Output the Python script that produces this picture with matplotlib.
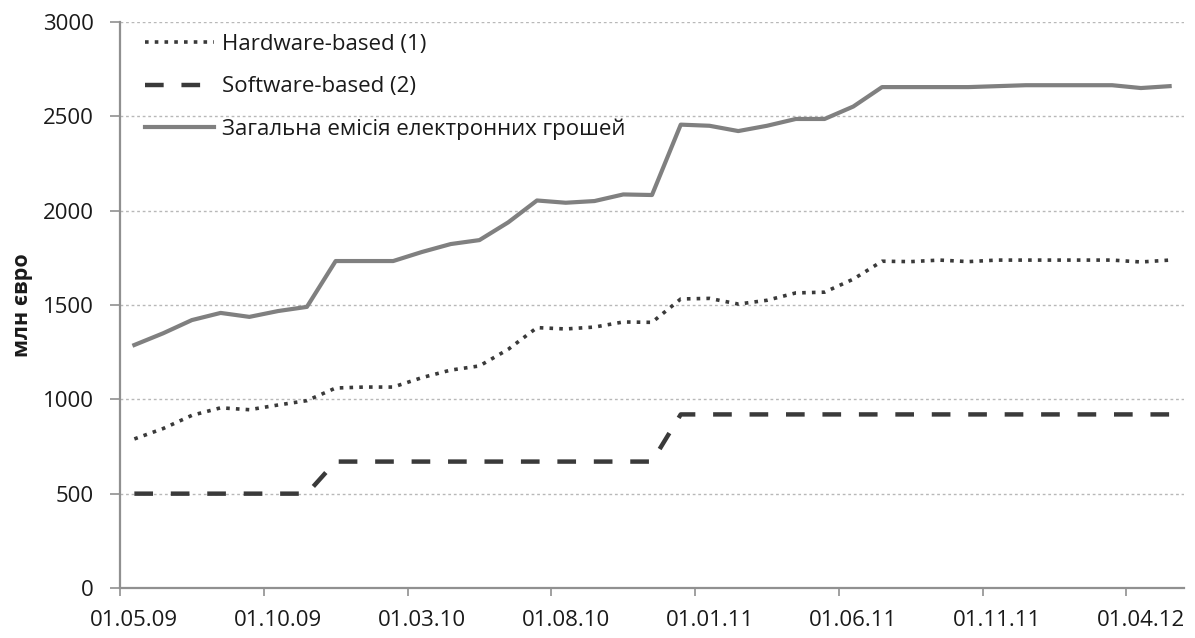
import matplotlib
matplotlib.use("Agg")
import matplotlib.pyplot as plt
import numpy as np

# Monthly observations, 01.05.09 .. 01.05.12 (37 months)
months = [f"01.{m:02d}.{y:02d}" for y, m in
          [(9 + (4 + i) // 12, (4 + i) % 12 + 1) for i in range(37)]]

hardware = [790, 845, 915, 955, 945, 970, 993, 1060, 1065, 1065, 1115, 1155,
            1177, 1265, 1380, 1373, 1383, 1410, 1408, 1532, 1535, 1505, 1525,
            1564, 1568, 1637, 1732, 1730, 1738, 1730, 1738, 1738, 1738, 1738,
            1738, 1728, 1738]

software = [500] * 7 + [670] * 12 + [920] * 18

total = [1288, 1350, 1420, 1458, 1437, 1468, 1490, 1733, 1733, 1733, 1781,
         1823, 1844, 1938, 2054, 2042, 2051, 2086, 2083, 2456, 2450, 2422,
         2450, 2486, 2486, 2552, 2655, 2655, 2655, 2655, 2660, 2665, 2665,
         2665, 2665, 2650, 2660]

labels = ["Hardware-based (1)", "Software-based (2)",
          "Загальна емісія електронних грошей"]
y_title = "млн євро"
yticks = [0, 500, 1000, 1500, 2000, 2500, 3000]

plt.rcParams["font.family"] = ["Open Sans", "DejaVu Sans"]

fig = plt.figure(figsize=(11.95, 6.38), dpi=100)
ax = fig.add_axes([0.1004, 0.0784, 0.8904, 0.8871])

x = np.arange(len(months))
dark = "#3a3a3a"
txt = "#1a1a1a"

ax.plot(x, hardware, color=dark, lw=2.6, linestyle=(0, (1.0, 1.7)),
        dash_capstyle="butt", label=labels[0], zorder=3)
ax.plot(x, software, color=dark, lw=3.2, linestyle=(0, (4.2, 4.0)),
        dash_capstyle="butt", label=labels[1], zorder=3)
ax.plot(x, total, color="#808080", lw=3.0, label=labels[2], zorder=3)

ax.set_xlim(-0.5, len(months) - 0.5)
ax.set_ylim(0, 3000)
ax.set_yticks(yticks)
ax.set_yticklabels([str(v) for v in yticks])

# category labels every 5 months, tick marks on category boundaries
lab_idx = list(range(0, len(months), 5))
ax.set_xticks(lab_idx)
ax.set_xticklabels([months[i] for i in lab_idx])
ax.set_xticks([i - 0.5 for i in lab_idx], minor=True)
ax.tick_params(axis="x", which="major", length=0, pad=16, labelsize=16,
               labelcolor=txt)
ax.tick_params(axis="x", which="minor", length=6, color="#909090", width=1.2,
               direction="out")
ax.tick_params(axis="y", length=7, color="#909090", width=1.2, pad=12,
               labelsize=16, labelcolor=txt)

ax.grid(axis="y", color="#b8b8b8", lw=1.0, linestyle=(0, (2, 2)), zorder=0)
for s in ("top", "right"):
    ax.spines[s].set_visible(False)
for s in ("left", "bottom"):
    ax.spines[s].set_color("#909090")
    ax.spines[s].set_linewidth(1.6)

fig.text(0.019, 0.5215, y_title, rotation=90, ha="center", va="center",
         fontsize=15.5, fontweight="bold", color=txt)

leg = ax.legend(loc="upper left", bbox_to_anchor=(0.012, 1.0), frameon=False,
                fontsize=16, handlelength=3.1, handletextpad=0.35,
                labelspacing=0.95, borderaxespad=0.15)
for t in leg.get_texts():
    t.set_color(txt)

fig.savefig("out.png", dpi=100, facecolor="white")
